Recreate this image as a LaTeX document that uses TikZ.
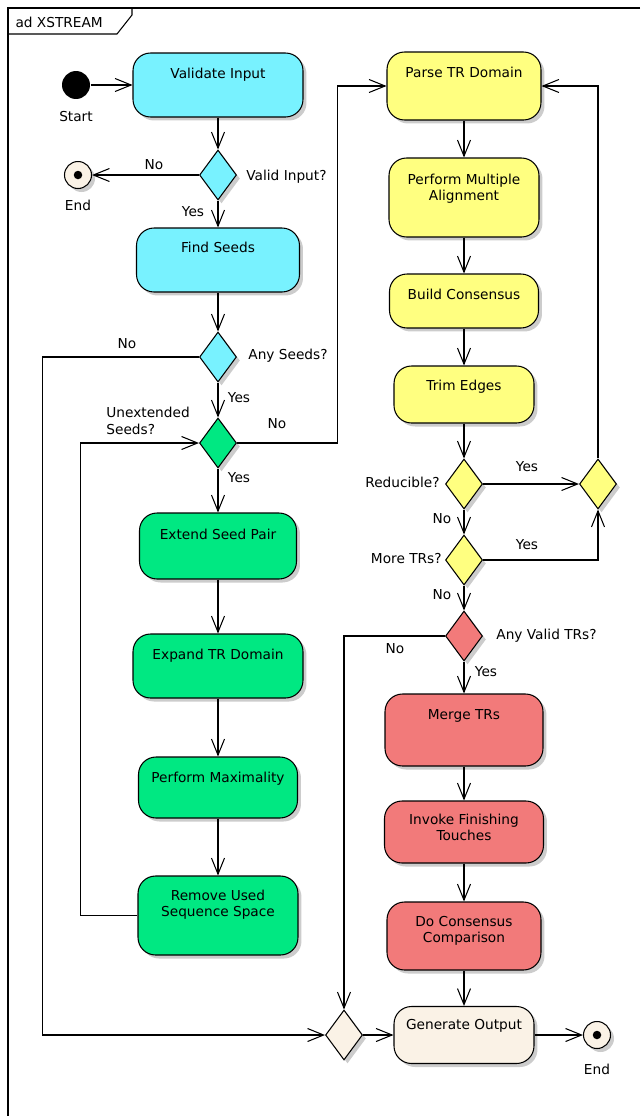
\documentclass[tikz,border=0pt]{standalone}
\usepackage{fontspec}
\setmainfont{DejaVu Sans}
\usetikzlibrary{positioning, shapes.geometric, arrows.meta, shadows}

\definecolor{cyanbox}{RGB}{120,242,255}
\definecolor{greenbox}{RGB}{0,232,130}
\definecolor{yellowbox}{RGB}{255,255,128}
\definecolor{redbox}{RGB}{242,122,122}
\definecolor{beigebox}{RGB}{250,242,230}

\newcommand{\twoline}[2]{\begin{tabular}[t]{@{}c@{}}#1\\#2\end{tabular}}

\tikzstyle{arrow} = [->, >={Straight Barb[length=3.2mm, width=2.6mm]}]
\tikzstyle{shade} = [drop shadow={shadow xshift=0.07cm, shadow yshift=-0.07cm, fill=black!40}]
\tikzstyle{act} = [rectangle, rounded corners=0.35cm, draw, inner xsep=2pt, inner ysep=0pt, shade]
\tikzstyle{choice} = [diamond, draw, minimum width=0.74cm, minimum height=1cm, inner sep=0pt, shade]
\tikzstyle{startdot} = [circle, fill=black, minimum size=0.56cm, inner sep=0pt]
\tikzstyle{enddot} = [circle, draw, fill=beigebox, minimum size=0.54cm, inner sep=0pt, shade]

\begin{document}
\begin{tikzpicture}[x=0.02cm, y=-0.02cm, line width=0.6pt, font=\fontsize{7.8}{9.6}\selectfont]
  \useasboundingbox (0,0) rectangle (640,1116);

  % Frame
  \draw (640,8) -- (8,8) -- (8,1116);
  \draw (8,34) -- (117,34) -- (132,15) -- (132,8);
  \node[anchor=west, inner sep=0pt] (title) at (15,22) {ad XSTREAM};

  % Seeds column
  \node[startdot] (start) at (76,85) {};
  \node (lstart) at (76,117) {Start};
  \node[act, fill=cyanbox, minimum width=3.4cm, text height=0.5cm, text depth=0.78cm] (validate) at (218,85) {Validate Input};
  \node[choice, fill=cyanbox] (dvalid) at (218,175) {};
  \node[enddot] (end1) at (78,175) {};
  \fill (end1) circle (0.085cm);
  \node (lend1) at (78,205) {End};
  \node[act, fill=cyanbox, minimum width=3.26cm, text height=0.48cm, text depth=0.8cm] (seeds) at (218,260) {Find Seeds};
  \node[choice, fill=cyanbox] (dseeds) at (218,357) {};
  \node[choice, fill=greenbox] (dunext) at (218,443) {};
  \node[act, fill=greenbox, minimum width=3.14cm, text height=0.52cm, text depth=0.8cm] (extend) at (218,546) {Extend Seed Pair};
  \node[act, fill=greenbox, minimum width=3.4cm, text height=0.5cm, text depth=0.78cm] (expand) at (218,666) {Expand TR Domain};
  \node[act, fill=greenbox, minimum width=3.18cm, text height=0.5cm, text depth=0.72cm] (maxim) at (218,787.5) {Perform Maximality};
  \node[act, fill=greenbox, minimum width=3.2cm, text height=0.48cm, text depth=1.1cm] (remove) at (218,915.5) {\twoline{Remove Used}{Sequence Space}};

  % TR column
  \node[act, fill=yellowbox, minimum width=3.08cm, text height=0.5cm, text depth=0.86cm] (parse) at (464,86) {Parse TR Domain};
  \node[act, fill=yellowbox, minimum width=3.0cm, text height=0.52cm, text depth=1.06cm] (align) at (464,197.5) {\twoline{Perform Multiple}{Alignment}};
  \node[act, fill=yellowbox, minimum width=2.98cm, text height=0.5cm, text depth=0.58cm] (consensus) at (464,301) {Build Consensus};
  \node[act, fill=yellowbox, minimum width=2.8cm, text height=0.48cm, text depth=0.66cm] (trim) at (464,394.5) {Trim Edges};
  \node[choice, fill=yellowbox] (dreduce) at (464,484) {};
  \node[choice, fill=yellowbox] (djoin) at (598,484) {};
  \node[choice, fill=yellowbox] (dmore) at (464,560) {};
  \node[choice, fill=redbox] (dany) at (464,636) {};
  \node[act, fill=redbox, minimum width=3.16cm, text height=0.5cm, text depth=0.94cm] (merge) at (464,730) {Merge TRs};
  \node[act, fill=redbox, minimum width=3.18cm, text height=0.46cm, text depth=0.78cm] (finish) at (464,832) {\twoline{Invoke Finishing}{Touches}};
  \node[act, fill=redbox, minimum width=3.08cm, text height=0.48cm, text depth=0.88cm] (compare) at (464,936) {\twoline{Do Consensus}{Comparison}};
  \node[act, fill=beigebox, minimum width=2.8cm, text height=0.46cm, text depth=0.68cm] (output) at (464,1035) {Generate Output};
  \node[choice, fill=beigebox] (dmerge) at (344,1035) {};
  \node[enddot] (end2) at (597,1035) {};
  \fill (end2) circle (0.085cm);
  \node (lend2) at (597,1069) {End};

  % Decision labels
  \node[anchor=west] (lvalid) at (240,177) {Valid Input?};
  \node[anchor=west] (lseeds) at (242,356) {Any Seeds?};
  \node[anchor=west, align=left] (lunext) at (100,421) {Unextended\\Seeds?};
  \node[anchor=east] (lreduce) at (446,482) {Reducible?};
  \node[anchor=east] (lmore) at (448,559) {More TRs?};
  \node[anchor=west] (lany) at (490,636) {Any Valid TRs?};

  % Guard labels
  \node (no1) at (154,165) {No};
  \node (yes1) at (193,212) {Yes};
  \node (no2) at (127,344) {No};
  \node (yes2) at (239,398) {Yes};
  \node (no3) at (277,424) {No};
  \node (yes3) at (239,478) {Yes};
  \node (yes4) at (527,467) {Yes};
  \node (no4) at (442,519) {No};
  \node (yes5) at (527,545) {Yes};
  \node (no5) at (442,595) {No};
  \node (no6) at (395,649) {No};
  \node (yes6) at (486,672) {Yes};

  % Flows
  \draw[arrow] (start) -- (validate);
  \draw[arrow] (validate) -- (dvalid);
  \draw[arrow] (dvalid) -- (end1);
  \draw[arrow] (dvalid) -- (seeds);
  \draw[arrow] (seeds) -- (dseeds);
  \draw[arrow] (dseeds) -- (dunext);
  \draw[arrow] (dunext) -- (extend);
  \draw[arrow] (extend) -- (expand);
  \draw[arrow] (expand) -- (maxim);
  \draw[arrow] (maxim) -- (remove);
  \draw[arrow] (remove.west) -- ++(-57,0) |- (dunext.west);
  \draw[arrow] (dseeds.west) -- ++(-156.5,0) |- (dmerge.west);
  \draw[arrow] (dunext.east) -- ++(100.5,0) |- (parse.west);
  \draw[arrow] (parse) -- (align);
  \draw[arrow] (align) -- (consensus);
  \draw[arrow] (consensus) -- (trim);
  \draw[arrow] (trim) -- (dreduce);
  \draw[arrow] (dreduce) -- (djoin);
  \draw[arrow] (djoin.north) |- (parse.east);
  \draw[arrow] (dreduce) -- (dmore);
  \draw[arrow] (dmore.east) -| (djoin.south);
  \draw[arrow] (dmore) -- (dany);
  \draw[arrow] (dany.west) -| (dmerge.north);
  \draw[arrow] (dany) -- (merge);
  \draw[arrow] (merge) -- (finish);
  \draw[arrow] (finish) -- (compare);
  \draw[arrow] (compare) -- (output);
  \draw[arrow] (dmerge) -- (output);
  \draw[arrow] (output) -- (end2);
\end{tikzpicture}
\end{document}
